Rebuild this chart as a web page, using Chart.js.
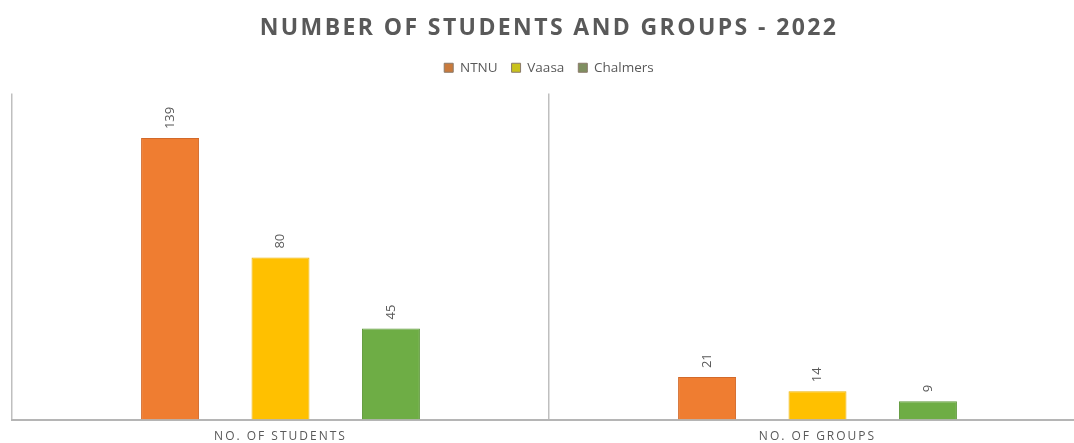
<!DOCTYPE html>
<html>
<head>
<meta charset="utf-8">
<script src="https://cdn.jsdelivr.net/npm/chart.js@4/dist/chart.umd.min.js"></script>
<style>
html,body{margin:0;padding:0;background:#fff;overflow:hidden;width:1074px;height:443px;}
#wrap{position:relative;width:1096px;height:443px;}
</style>
</head>
<body>
<div id="wrap"><canvas id="c" width="1096" height="443"></canvas></div>
<script>
const chartTitle = 'NUMBER OF STUDENTS AND GROUPS - 2022';
const categories = ['NO. OF STUDENTS', 'NO. OF GROUPS'];
const seriesNames = ['NTNU', 'Vaasa', 'Chalmers'];
const ntnu = [139, 21];
const vaasa = [80, 14];
const chalmers = [45, 9];
const barColors = ['#EF7D31', '#FFC000', '#6EAD45'];
const barBorders = ['#D2692A', '#EDB300', '#5E983A'];
const legendColors = ['#C97A3C', '#C9C21C', '#7F8F60'];

const textGray = '#595959';

const titlePlugin = {
  id: 'customTitle',
  afterDraw(chart) {
    const ctx = chart.ctx;
    ctx.save();
    ctx.font = 'bold 23px "Open Sans"';
    ctx.fillStyle = textGray;
    ctx.letterSpacing = '2.4px';
    ctx.textAlign = 'center';
    ctx.textBaseline = 'middle';
    ctx.fillText(chartTitle, 549, 28);
    ctx.restore();
  }
};

const labelPlugin = {
  id: 'barLabels',
  afterDatasetsDraw(chart) {
    const ctx = chart.ctx;
    ctx.save();
    ctx.font = '13px "Open Sans"';
    ctx.fillStyle = textGray;
    chart.data.datasets.forEach((ds, i) => {
      const meta = chart.getDatasetMeta(i);
      meta.data.forEach((el, j) => {
        ctx.save();
        ctx.translate(el.x, el.y - 9);
        ctx.rotate(-Math.PI / 2);
        ctx.textAlign = 'left';
        ctx.textBaseline = 'middle';
        ctx.fillText(String(ds.data[j]), 0, 0);
        ctx.restore();
      });
    });
    ctx.restore();
  }
};

const spacingPlugin = {
  id: 'tickSpacing',
  beforeUpdate(chart) {
    const lg = chart.legend;
    if (lg && !lg._fitPatched) {
      const origFit = lg.fit;
      lg.fit = function () {
        origFit.call(this);
        this.height += 9;
      };
      lg._fitPatched = true;
    }
  },
  beforeDraw(chart) {
    const xs = chart.scales.x;
    if (xs && !xs._lsPatched) {
      const orig = xs.drawLabels;
      xs.drawLabels = function (ca) {
        const c = this.ctx;
        c.save();
        c.letterSpacing = '2px';
        orig.call(this, ca);
        c.restore();
      };
      xs._lsPatched = true;
    }
  }
};

const seriesData = [ntnu, vaasa, chalmers];

new Chart(document.getElementById('c'), {
  type: 'bar',
  data: {
    labels: categories,
    datasets: seriesNames.map((name, i) => ({
      label: name,
      data: seriesData[i],
      backgroundColor: barColors[i],
      borderColor: barBorders[i],
      borderWidth: 1,
      categoryPercentage: 0.617,
      barPercentage: 0.525
    }))
  },
  options: {
    responsive: false,
    animation: false,
    layout: { padding: { top: 47, left: 12, right: 10, bottom: -11 } },
    plugins: {
      title: { display: false },
      tooltip: { enabled: false },
      legend: {
        display: true,
        position: 'top',
        labels: {
          boxWidth: 9,
          boxHeight: 9,
          padding: 14,
          color: textGray,
          font: { family: '"Open Sans"', size: 13.5 },
          generateLabels(chart) {
            return chart.data.datasets.map((ds, i) => ({
              text: ds.label,
              fillStyle: legendColors[i],
              strokeStyle: '#8a7a6a',
              lineWidth: 1,
              fontColor: textGray,
              datasetIndex: i,
              hidden: false
            }));
          }
        }
      }
    },
    scales: {
      x: {
        offset: true,
        grid: { display: true, offset: true, color: '#bfbfbf', lineWidth: 1.5, drawTicks: false },
        border: { display: true, color: '#b5b5b5', width: 2 },
        ticks: { color: textGray, font: { family: '"Open Sans"', size: 12 }, padding: 10, maxRotation: 0 }
      },
      y: {
        display: false,
        min: 0,
        max: 161
      }
    }
  },
  plugins: [titlePlugin, labelPlugin, spacingPlugin]
});
</script>
</body>
</html>
